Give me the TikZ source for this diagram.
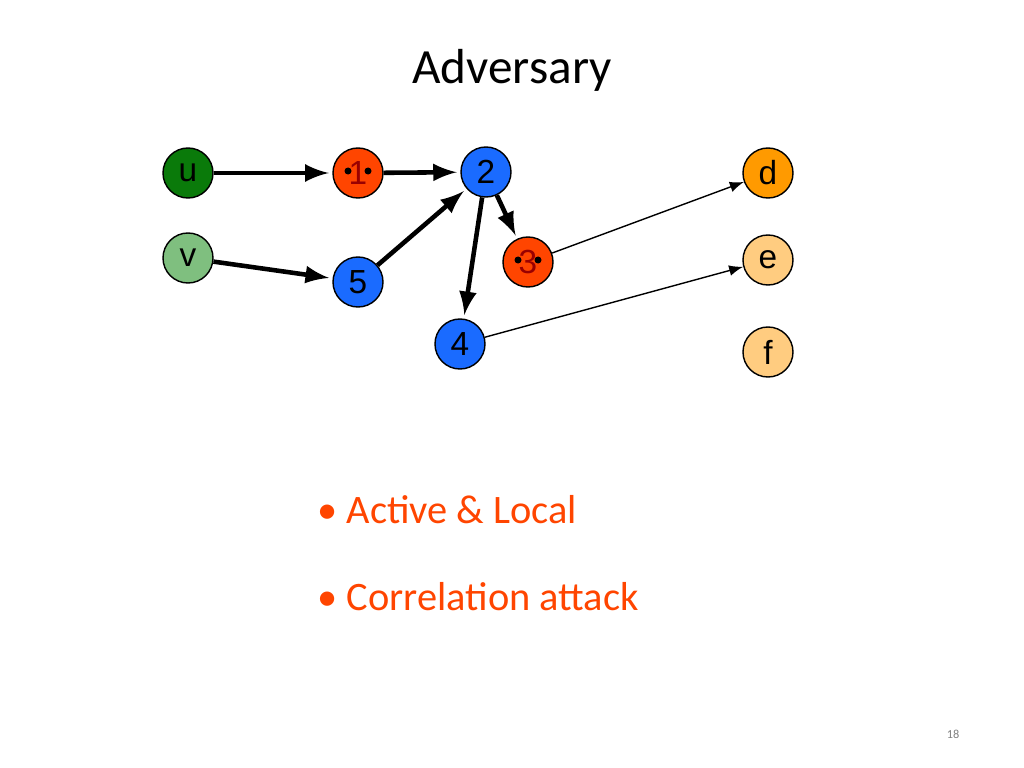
\documentclass[tikz,border=0pt]{standalone}
\usepackage{fontspec}
\setmainfont{Carlito}
\newfontfamily\nodefont{Liberation Sans}
\definecolor{advred}{HTML}{FF4500}
\definecolor{advblue}{HTML}{1A6BFF}
\definecolor{darkgreen}{HTML}{0A7A0A}
\definecolor{lightgreen}{HTML}{7FBF7F}
\definecolor{advorange}{HTML}{FF9A00}
\definecolor{lightorange}{HTML}{FFCC80}
\newcommand{\angryface}[1]{%
  \fill ([shift={(-0.1,0.02)}]#1) circle (0.035);
  \fill ([shift={(0.1,0.02)}]#1) circle (0.035);
  \draw[-,line width=1.4pt] ([shift={(-0.16,0.13)}]#1) -- ([shift={(-0.05,0.07)}]#1);
  \draw[-,line width=1.4pt] ([shift={(0.16,0.13)}]#1) -- ([shift={(0.05,0.07)}]#1);
  \draw[-,line width=1.4pt] ([shift={(-0.07,-0.15)}]#1) -- ([shift={(0,-0.07)}]#1) -- ([shift={(0.07,-0.15)}]#1);}
\begin{document}
\begin{tikzpicture}[x=1cm,y=1cm,->,>=latex]
    \tikzstyle{vertex}=[circle,draw=black,thin,minimum size=0.5cm,inner sep=0pt,font=\nodefont\fontsize{9.5}{10}\selectfont]
    \tikzstyle{honest}=[vertex, fill=advblue]
    \tikzstyle{bad}=[vertex, fill=advred, text=red!60!black]
    \tikzstyle{link}=[line width=1.3pt,shorten >=1pt]
    \tikzstyle{leak}=[thin]
\useasboundingbox (0,0) rectangle (10.24,-7.68);

\node at (5.12,-0.7) {\fontsize{14}{16}\selectfont Adversary};

\node[vertex, fill=darkgreen] (u) at (1.88,-1.73) {u};
\node[vertex, fill=lightgreen] (v) at (1.88,-2.58) {v};
\node[bad] (n1) at (3.58,-1.73) {1};
\node[honest] (n2) at (4.86,-1.72) {2};
\node[bad] (n3) at (5.28,-2.62) {3};
\node[honest] (n4) at (4.60,-3.44) {4};
\node[honest] (n5) at (3.58,-2.82) {5};
\node[vertex, fill=advorange] (d) at (7.68,-1.73) {d};
\node[vertex, fill=lightorange] (e) at (7.68,-2.60) {e};
\node[vertex, fill=lightorange] (f) at (7.68,-3.52) {f};

\angryface{n1}
\angryface{n3}

\draw[link] (u) -- (n1);
\draw[link] (n1) -- (n2);
\draw[link] (v) -- (n5);
\draw[link] (n5) -- (n2);
\draw[link] (n2) -- (n3);
\draw[link] (n2) -- (n4);
\draw[leak] (n3) -- (d);
\draw[leak] (n4) -- (e);

\node[anchor=west, text=advred, font=\fontsize{11.5}{13}\selectfont] (b1) at (3.05,-5.10) {\textbullet\ Active \& Local};
\node[anchor=west, text=advred, font=\fontsize{11.5}{13}\selectfont] (b2) at (3.05,-5.97) {\textbullet\ Correlation attack};
\node[text=gray, font=\fontsize{3.5}{4}\selectfont] (pg) at (9.53,-7.34) {18};
\end{tikzpicture}
\end{document}
